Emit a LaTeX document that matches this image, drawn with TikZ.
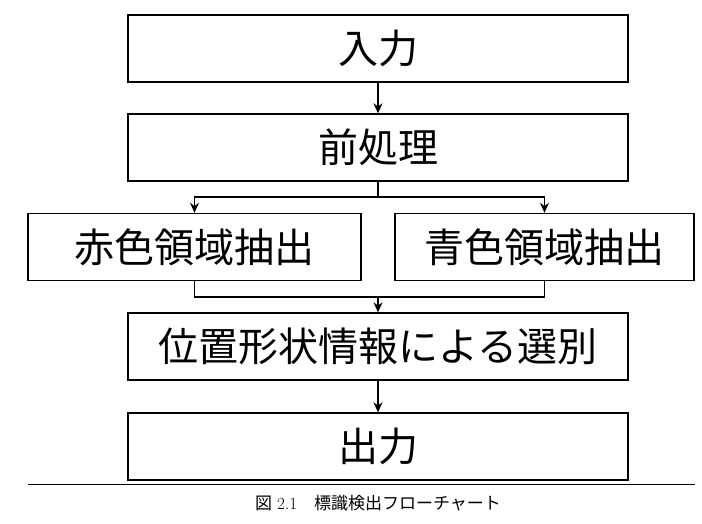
\documentclass[tikz,border=0pt]{standalone}
\usepackage{fontspec}
\newfontfamily\cjk{Noto Sans CJK JP}
\usepackage{tikz}
\usetikzlibrary{arrows.meta,positioning,calc}

\begin{document}
\begin{tikzpicture}[x=1pt,y=-1pt,
  stepbox/.style={draw, line width=1.4pt, minimum height=67pt, inner sep=0pt,
    font=\cjk\fontsize{40}{40}\selectfont},
  arr/.style={-{Stealth[length=10pt,width=9pt]}, line width=1.2pt},
  lnk/.style={line width=1.2pt}]
\useasboundingbox (0,0) rectangle (702,523);
% Main column
\node[stepbox, minimum width=500pt] (in)  at (378,48.5)  {入力};
\node[stepbox, minimum width=500pt] (pre) at (378,147.5) {前処理};
% Colour extraction
\node[stepbox, minimum width=333pt] (red)  at (194.5,247) {赤色領域抽出};
\node[stepbox, minimum width=299pt] (blue) at (544.5,247) {青色領域抽出};
\node[stepbox, minimum width=500pt] (sel) at (378,346.5) {位置形状情報による選別};
\node[stepbox, minimum width=500pt] (out) at (378,446.5) {出力};
% Split and merge points
\coordinate (split) at (378,197);
\coordinate (merge) at (378,297);
% Connectors
\draw[arr] (in) -- (pre);
\draw[lnk] (pre) -- (split);
\draw[arr] (split) -| (red);
\draw[arr] (split) -| (blue);
\draw[lnk] (red) |- (merge) -| (blue);
\draw[arr] (merge) -- (sel);
\draw[arr] (sel) -- (out);
% Caption
\coordinate (ruleL) at (28,484);
\coordinate (ruleR) at (695,484);
\draw[line width=1pt] (ruleL) -- (ruleR);
\node[font=\fontsize{17}{17}\selectfont] (cap) at (378,503)
  {{\cjk 図}~2.1\quad{\cjk 標識検出フローチャート}};
\end{tikzpicture}
\end{document}
